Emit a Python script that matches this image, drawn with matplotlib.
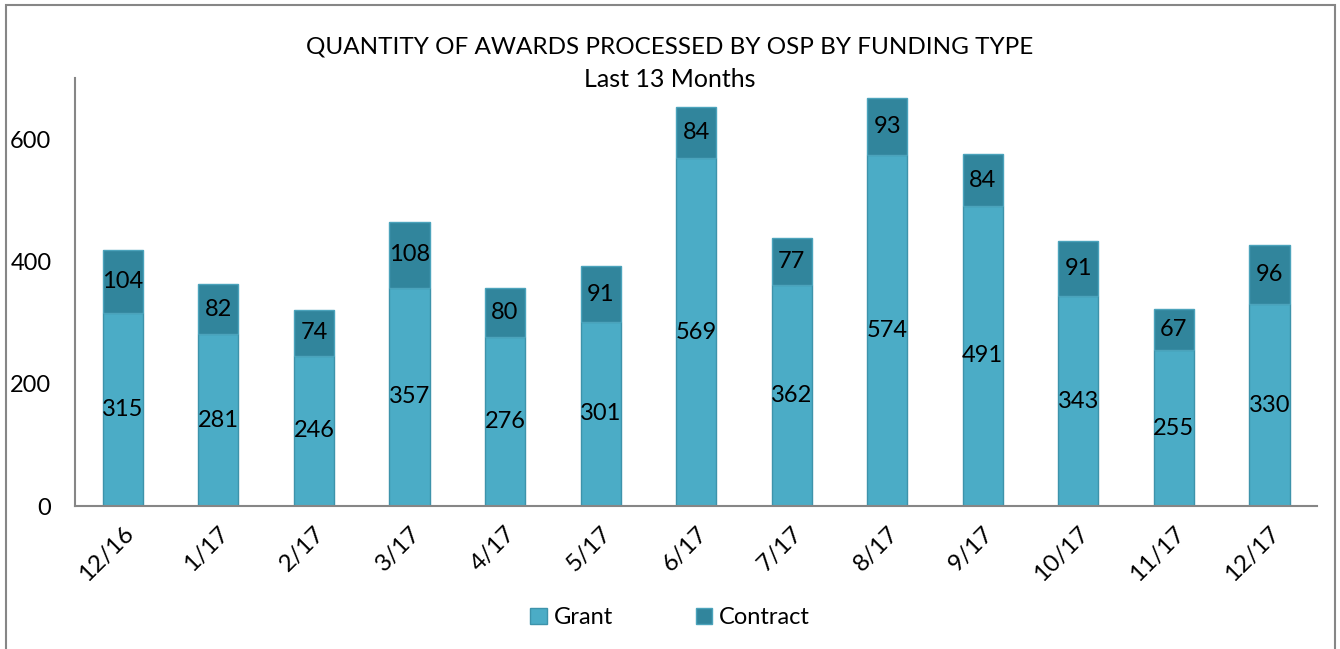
import matplotlib.pyplot as plt
from matplotlib.patches import Rectangle
import numpy as np

months = ['12/16', '1/17', '2/17', '3/17', '4/17', '5/17', '6/17',
          '7/17', '8/17', '9/17', '10/17', '11/17', '12/17']
grant = [315, 281, 246, 357, 276, 301, 569, 362, 574, 491, 343, 255, 330]
contract = [104, 82, 74, 108, 80, 91, 84, 77, 93, 84, 91, 67, 96]

plt.rcParams['font.family'] = ['Lato', 'DejaVu Sans']

fig = plt.figure(figsize=(13.4, 6.49), dpi=100)
ax = fig.add_axes([0.056, 0.2203, 0.927, 0.6597])

x = np.arange(len(months))
w = 0.42
b1 = ax.bar(x, grant, w, color='#4BACC6', edgecolor='#3D93AB', linewidth=1, label='Grant')
b2 = ax.bar(x, contract, w, bottom=grant, color='#31859C', edgecolor='#4BA3BB', linewidth=1, label='Contract')
ax.bar_label(b1, label_type='center', fontsize=17)
ax.bar_label(b2, label_type='center', fontsize=17)

ax.set_xlim(-0.5, len(months) - 0.5)
ax.set_ylim(0, 700)
ax.set_yticks([0, 200, 400, 600])
ax.set_xticks(x)
ax.set_xticklabels(months, rotation=45, ha='right', rotation_mode='anchor', fontsize=17.5)
ax.tick_params(axis='y', labelsize=17, length=0, pad=17)
ax.tick_params(axis='x', length=0, pad=12)
for s in ['top', 'right']:
    ax.spines[s].set_visible(False)
ax.spines['left'].set_color('#868686')
ax.spines['bottom'].set_color('#868686')
ax.spines['left'].set_linewidth(1.5)
ax.spines['bottom'].set_linewidth(1.5)

fig.text(0.5, 0.928, 'QUANTITY OF AWARDS PROCESSED BY OSP BY FUNDING TYPE', ha='center', va='center', fontsize=17.5)
fig.text(0.5, 0.877, 'Last 13 Months', ha='center', va='center', fontsize=18)

fig.legend(handles=[b1, b2], loc='center', bbox_to_anchor=(0.5, 0.048), ncol=2, frameon=False,
           fontsize=17, handlelength=0.7, handleheight=0.7, columnspacing=3.5, handletextpad=0.3)

fig.patches.append(Rectangle((6 / 1340, -0.05), 1329 / 1340, 1.05 - 5 / 649, transform=fig.transFigure,
                             fill=False, edgecolor='#868686', linewidth=1.5))

fig.savefig('out.png', dpi=100)
